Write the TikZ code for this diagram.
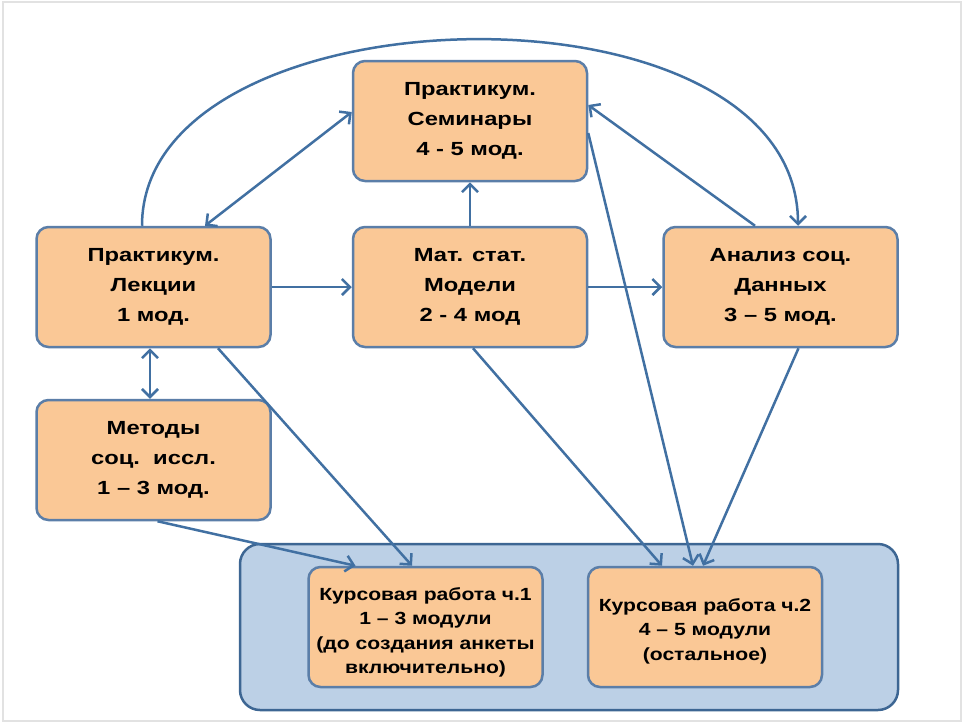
\documentclass[tikz,border=0pt]{standalone}
\usepackage{fontspec}
\setmainfont{Liberation Sans}[FakeStretch=1.25]
\newfontfamily\krfont[FakeStretch=1.2]{Liberation Sans}
\usetikzlibrary{arrows.meta}
\definecolor{boxfill}{HTML}{FAC896}
\definecolor{boxline}{HTML}{5B7EA8}
\definecolor{arrowc}{HTML}{4170A2}
\definecolor{contfill}{HTML}{BCD0E6}
\definecolor{contline}{HTML}{3D6693}
\definecolor{frameg}{HTML}{E2E2E2}
\newcommand{\lowertext}[2]{\raisebox{-#1}[\height][\depth]{\begin{tabular}{@{}c@{}}#2\end{tabular}}}
\tikzset{
  tbox/.style={draw=boxline, line width=2.5pt, fill=boxfill, rounded corners=12pt,
    minimum width=234pt, minimum height=120pt, align=center, inner sep=0pt,
    font=\fontsize{19pt}{30pt}\selectfont\bfseries},
  nbox/.style={tbox, font=\krfont\fontsize{17.6pt}{24.5pt}\selectfont\bfseries},
  cont/.style={draw=contline, line width=2.5pt, fill=contfill, rounded corners=20pt,
    minimum width=658pt, minimum height=166pt, inner sep=0pt},
  conn/.style={draw=arrowc, line width=2.5pt, -{Straight Barb[length=8pt,width=16pt,line width=2.5pt]}},
  dconn/.style={conn, {Straight Barb[length=8pt,width=16pt,line width=2.5pt]}-{Straight Barb[length=8pt,width=16pt,line width=2.5pt]}}
}
\begin{document}
\begin{tikzpicture}[x=1pt,y=-1pt]
\useasboundingbox (0,0) rectangle (964,724);
\fill[white] (0,0) rectangle (964,724);
\draw[frameg, line width=1.5pt] (3,2) rectangle (961,721);

\node[cont] (cont) at (569,627) {};
\node[tbox] (sem) at (470,121) {Практикум.\\Семинары\\4 - 5 мод.};
\node[tbox] (lect) at (153.5,287) {Практикум.\\Лекции\\1 мод.};
\node[tbox] (mat) at (470,287) {Мат. стат.\\Модели\\2 - 4 мод};
\node[tbox] (anal) at (780.5,287) {Анализ соц.\\Данных\\3 – 5 мод.};
\node[tbox] (meth) at (153.5,460) {Методы\\соц.\ \ иссл.\\1 – 3 мод.};
\node[nbox] (kr1) at (425.5,627) {\lowertext{5pt}{Курсовая работа ч.1\\1 – 3 модули\\(до создания анкеты\\включительно)}};
\node[nbox] (kr2) at (705,627) {\lowertext{4pt}{Курсовая работа ч.2\\4 – 5 модули\\(остальное)}};

\draw[conn] ([xshift=-11.5pt]lect.north) .. controls (142,-15) and (798,-30) .. ([xshift=17.5pt]anal.north);
\draw[dconn] ([xshift=51.5pt]lect.north) -- ([yshift=9pt]sem.west);
\draw[conn] (lect.east) -- (mat.west);
\draw[conn] (mat.north) -- (sem.south);
\draw[conn] (mat.east) -- (anal.west);
\draw[conn] ([xshift=-25.5pt]anal.north) -- ([yshift=16pt]sem.east);
\draw[conn] ([yshift=-12pt]sem.east) -- ([xshift=-12pt]kr2.north);
\draw[conn] ([xshift=3pt]mat.south) -- ([xshift=-43pt]kr2.north);
\draw[conn] ([xshift=18pt]anal.south) -- ([xshift=-2pt]kr2.north);
\draw[dconn] ([xshift=-3.5pt]lect.south) -- ([xshift=-3.5pt]meth.north);
\draw[conn] ([xshift=64.5pt]lect.south) -- ([xshift=-13.5pt]kr1.north);
\draw[conn] ([xshift=4pt]meth.south) -- ([xshift=-70pt]kr1.north);
\end{tikzpicture}
\end{document}
